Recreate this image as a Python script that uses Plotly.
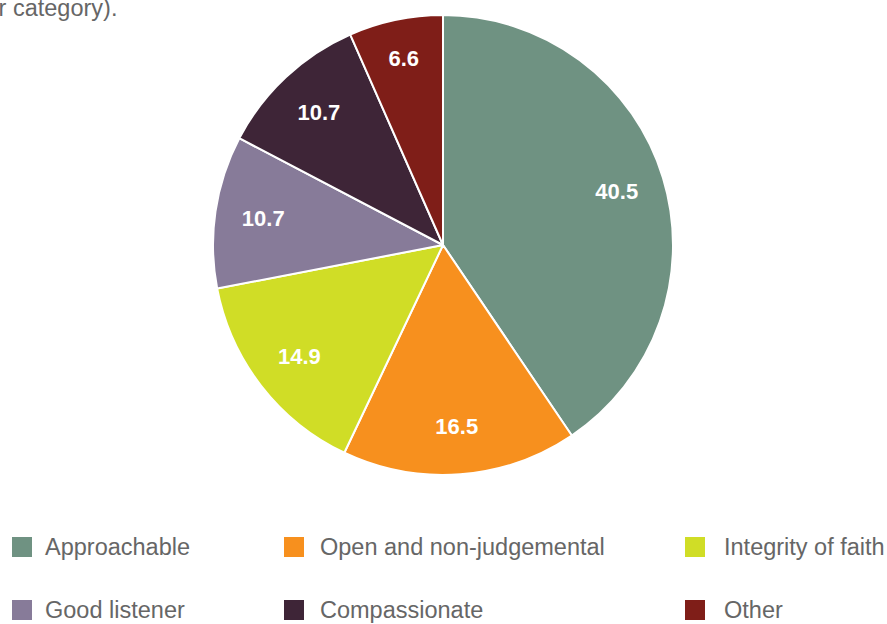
import plotly.graph_objects as go

categories = ["Approachable", "Open and non-judgemental", "Integrity of faith",
              "Good listener", "Compassionate", "Other"]
values = [40.5, 16.5, 14.9, 10.7, 10.7, 6.6]
colors = ["#6f9282", "#f7901e", "#d0dd26", "#877b99", "#3e2537", "#7f1e18"]
title_text = "Qualities most valued (% per category)."

W, H = 887, 624
cx, cy, R = 443, 245, 230
dom = dict(x=[(cx - R) / W, (cx + R) / W], y=[1 - (cy + R) / H, 1 - (cy - R) / H])
FONT = "Liberation Sans, Arial, sans-serif"

fig = go.Figure()
fig.add_trace(go.Pie(
    labels=categories, values=values, sort=False, direction="clockwise", rotation=0,
    marker=dict(colors=colors, line=dict(color="white", width=2)),
    textinfo="none", domain=dom, showlegend=False, hoverinfo="label+value",
))
# transparent ring carrying the value labels (places them at ~0.78 R)
fig.add_trace(go.Pie(
    labels=categories, values=values, sort=False, direction="clockwise", rotation=0,
    hole=0.58,
    marker=dict(colors=["rgba(0,0,0,0)"] * len(values), line=dict(width=0)),
    texttemplate="<b>%{value:.1f}</b>", textinfo="text", textposition="inside",
    insidetextorientation="horizontal",
    textfont=dict(family=FONT, size=22, color="white"),
    domain=dom, showlegend=False, hoverinfo="skip",
))

shapes, annotations = [], []
col_sq = [12, 284, 685]
col_tx = [43, 318, 722]
row_y = [547, 610]
for i, (cat, col) in enumerate(zip(categories, colors)):
    r, c = divmod(i, 3)
    y = row_y[r]
    shapes.append(dict(type="rect", xref="paper", yref="paper",
                       x0=col_sq[c] / W, x1=(col_sq[c] + 20) / W,
                       y0=1 - (y + 10) / H, y1=1 - (y - 10) / H,
                       fillcolor=col, line=dict(width=0)))
    annotations.append(dict(text=cat, xref="paper", yref="paper", x=col_tx[c] / W,
                            y=1 - y / H, xanchor="left", yanchor="middle", showarrow=False,
                            font=dict(family=FONT, size=23.5, color="#666666")))

annotations.append(dict(text=title_text, xref="paper", yref="paper", x=119 / W, y=1 - 8 / H,
                        xanchor="right", yanchor="middle", showarrow=False,
                        font=dict(family=FONT, size=23.5, color="#666666")))

fig.update_layout(width=W, height=H, margin=dict(l=0, r=0, t=0, b=0),
                  paper_bgcolor="white", plot_bgcolor="white",
                  uniformtext=dict(minsize=22, mode="show"),
                  shapes=shapes, annotations=annotations)
fig.write_html("out.html", config={"displayModeBar": False},
               post_script="document.body.style.margin='0';document.body.style.overflow='hidden';")
